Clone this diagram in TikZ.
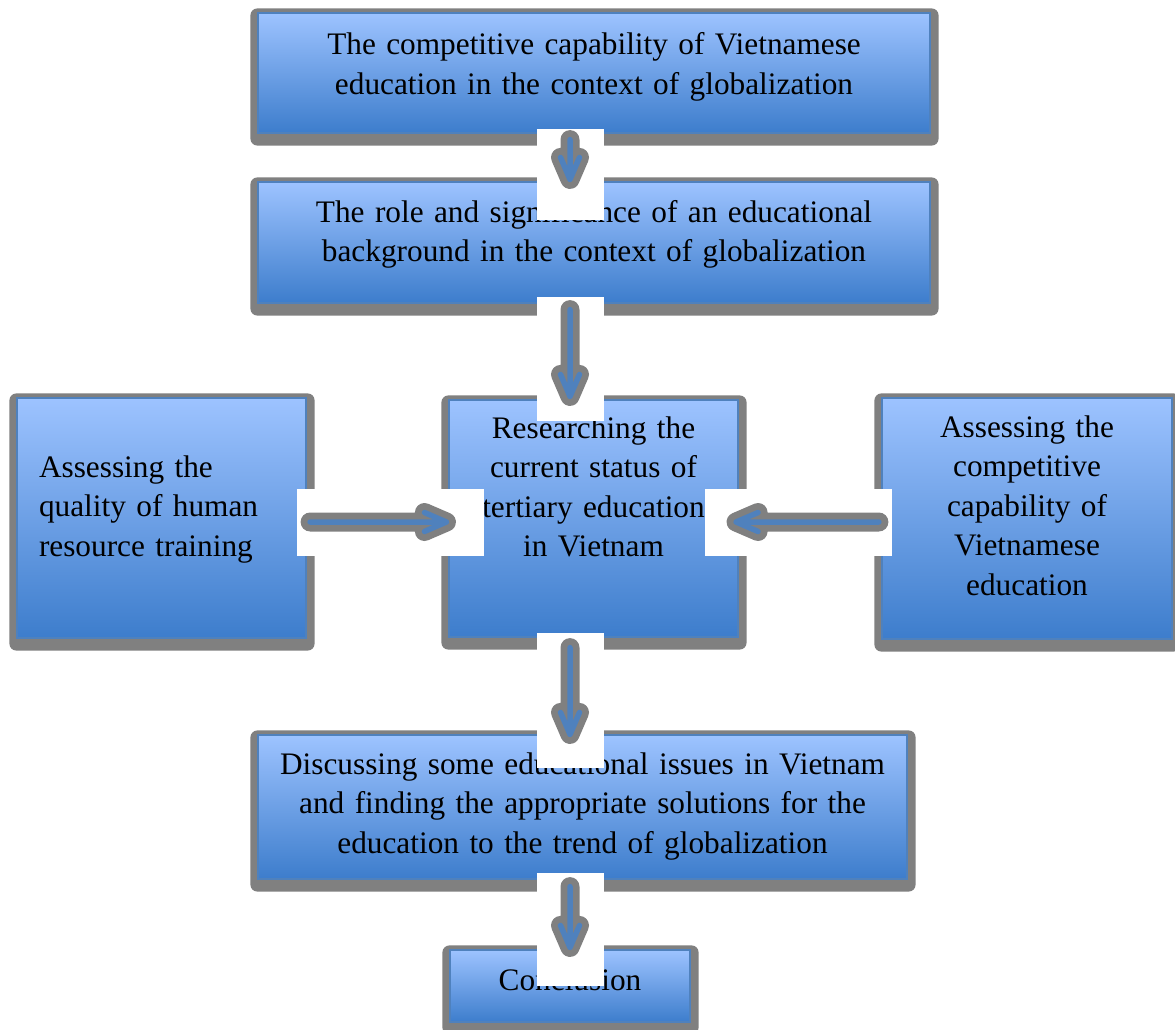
\documentclass[tikz,border=0pt]{standalone}
\usepackage{fontspec}
\setmainfont{Liberation Serif}
\usetikzlibrary{backgrounds}

\definecolor{boxtop}{RGB}{157,195,255}
\definecolor{boxbottom}{RGB}{61,125,204}
\definecolor{boxline}{RGB}{79,129,189}
\definecolor{shadowgray}{RGB}{128,128,128}

\tikzset{
  stagebox/.style={draw=boxline, line width=1.2pt, top color=boxtop, bottom color=boxbottom,
    inner xsep=4pt, inner ysep=0pt, align=center, font=\fontsize{31.3}{39.5}\selectfont},
  frame/.style={fill=shadowgray, rounded corners=7pt},
  patch/.style={fill=white},
  flowout/.style={draw=shadowgray, line width=19pt, line cap=round, line join=round},
  flowin/.style={draw=boxline, line width=5.5pt, line cap=round, line join=round},
  headdown/.style={insert path={-- ++(-9.5,-22) ++(9.5,22) -- ++(9.5,-22)}},
  headright/.style={insert path={-- ++(-22,-9.5) ++(22,9.5) -- ++(-22,9.5)}},
  headleft/.style={insert path={-- ++(22,-9.5) ++(-22,9.5) -- ++(22,9.5)}},
}

\begin{document}
\begin{tikzpicture}[x=1pt, y=-1pt]
\useasboundingbox (0,0) rectangle (1175,1030);

% the stages
\node [stagebox, text width=664pt, text height=42pt, text depth=78pt] (goal) at (594,73)
  {The competitive capability of Vietnamese\\education in the context of globalization};
\node [stagebox, text width=664pt, text height=40pt, text depth=81pt] (role) at (594,242.5)
  {The role and significance of an educational\\background in the context of globalization};
\node [stagebox, align=left, inner xsep=22pt, text width=245pt, text height=79pt, text depth=161pt] (quality) at (161.5,518)
  {Assessing the\\quality of human\\resource training};
\node [stagebox, text width=281pt, text height=38pt, text depth=199pt] (status) at (593.5,518.5)
  {Researching the\\current status of\\tertiary education\\in Vietnam};
\node [stagebox, text width=282pt, text height=39pt, text depth=202pt] (assess) at (1027,518.5)
  {Assessing the\\competitive\\capability of\\Vietnamese\\education};
\node [stagebox, text width=641pt, text height=39pt, text depth=105pt] (issues) at (582.5,807)
  {Discussing some educational issues in Vietnam\\and finding the appropriate solutions for the\\education to the trend of globalization};
\node [stagebox, text width=232pt, text height=40pt, text depth=32pt] (concl) at (570,986)
  {Conclusion};

% gray frames behind the stages
\begin{scope}[on background layer]
\fill [frame] ([xshift=-7pt,yshift=4pt]goal.north west) rectangle ([xshift=8pt,yshift=-12pt]goal.south east);
\fill [frame] ([xshift=-7pt,yshift=4pt]role.north west) rectangle ([xshift=8pt,yshift=-12pt]role.south east);
\fill [frame] ([xshift=-7pt,yshift=4pt]quality.north west) rectangle ([xshift=8pt,yshift=-12pt]quality.south east);
\fill [frame] ([xshift=-7pt,yshift=4pt]status.north west) rectangle ([xshift=8pt,yshift=-12pt]status.south east);
\fill [frame] ([xshift=-7pt,yshift=4pt]assess.north west) rectangle ([xshift=8pt,yshift=-12pt]assess.south east);
\fill [frame] ([xshift=-7pt,yshift=4pt]issues.north west) rectangle ([xshift=8pt,yshift=-12pt]issues.south east);
\fill [frame] ([xshift=-7pt,yshift=4pt]concl.north west) rectangle ([xshift=8pt,yshift=-12pt]concl.south east);
\end{scope}

% white patches under the arrows
\fill [patch] (537,129) rectangle (604,220);
\fill [patch] (537,297) rectangle (604,421);
\fill [patch] (537,633) rectangle (604,768);
\fill [patch] (537,873) rectangle (604,986);
\fill [patch] (297,489) rectangle (484,556);
\fill [patch] (705,489) rectangle (892,556);

% arrows
\draw [flowout] ([xshift=-24pt,yshift=-6pt]goal.south) -- ([xshift=-24pt,yshift=2pt]role.north) [headdown];
\draw [flowin] ([xshift=-24pt,yshift=-6pt]goal.south) -- ([xshift=-24pt,yshift=2pt]role.north) [headdown];
\draw [flowout] ([xshift=-24pt,yshift=-6pt]role.south) -- ([xshift=-23.5pt,yshift=3pt]status.north) [headdown];
\draw [flowin] ([xshift=-24pt,yshift=-6pt]role.south) -- ([xshift=-23.5pt,yshift=3pt]status.north) [headdown];
\draw [flowout] ([xshift=-23.5pt,yshift=-10pt]status.south) -- ([xshift=-12.5pt]issues.north) [headdown];
\draw [flowin] ([xshift=-23.5pt,yshift=-10pt]status.south) -- ([xshift=-12.5pt]issues.north) [headdown];
\draw [flowout] ([xshift=-12.5pt,yshift=-7pt]issues.south) -- ([yshift=2pt]concl.north) [headdown];
\draw [flowin] ([xshift=-12.5pt,yshift=-7pt]issues.south) -- ([yshift=2pt]concl.north) [headdown];
\draw [flowout] ([xshift=3.5pt,yshift=-4pt]quality.east) -- ([xshift=-2pt,yshift=-3.5pt]status.west) [headright];
\draw [flowin] ([xshift=3.5pt,yshift=-4pt]quality.east) -- ([xshift=-2pt,yshift=-3.5pt]status.west) [headright];
\draw [flowout] ([xshift=-2.5pt,yshift=-3.5pt]assess.west) -- ([xshift=-2.5pt,yshift=-3.5pt]status.east) [headleft];
\draw [flowin] ([xshift=-2.5pt,yshift=-3.5pt]assess.west) -- ([xshift=-2.5pt,yshift=-3.5pt]status.east) [headleft];
\end{tikzpicture}
\end{document}
